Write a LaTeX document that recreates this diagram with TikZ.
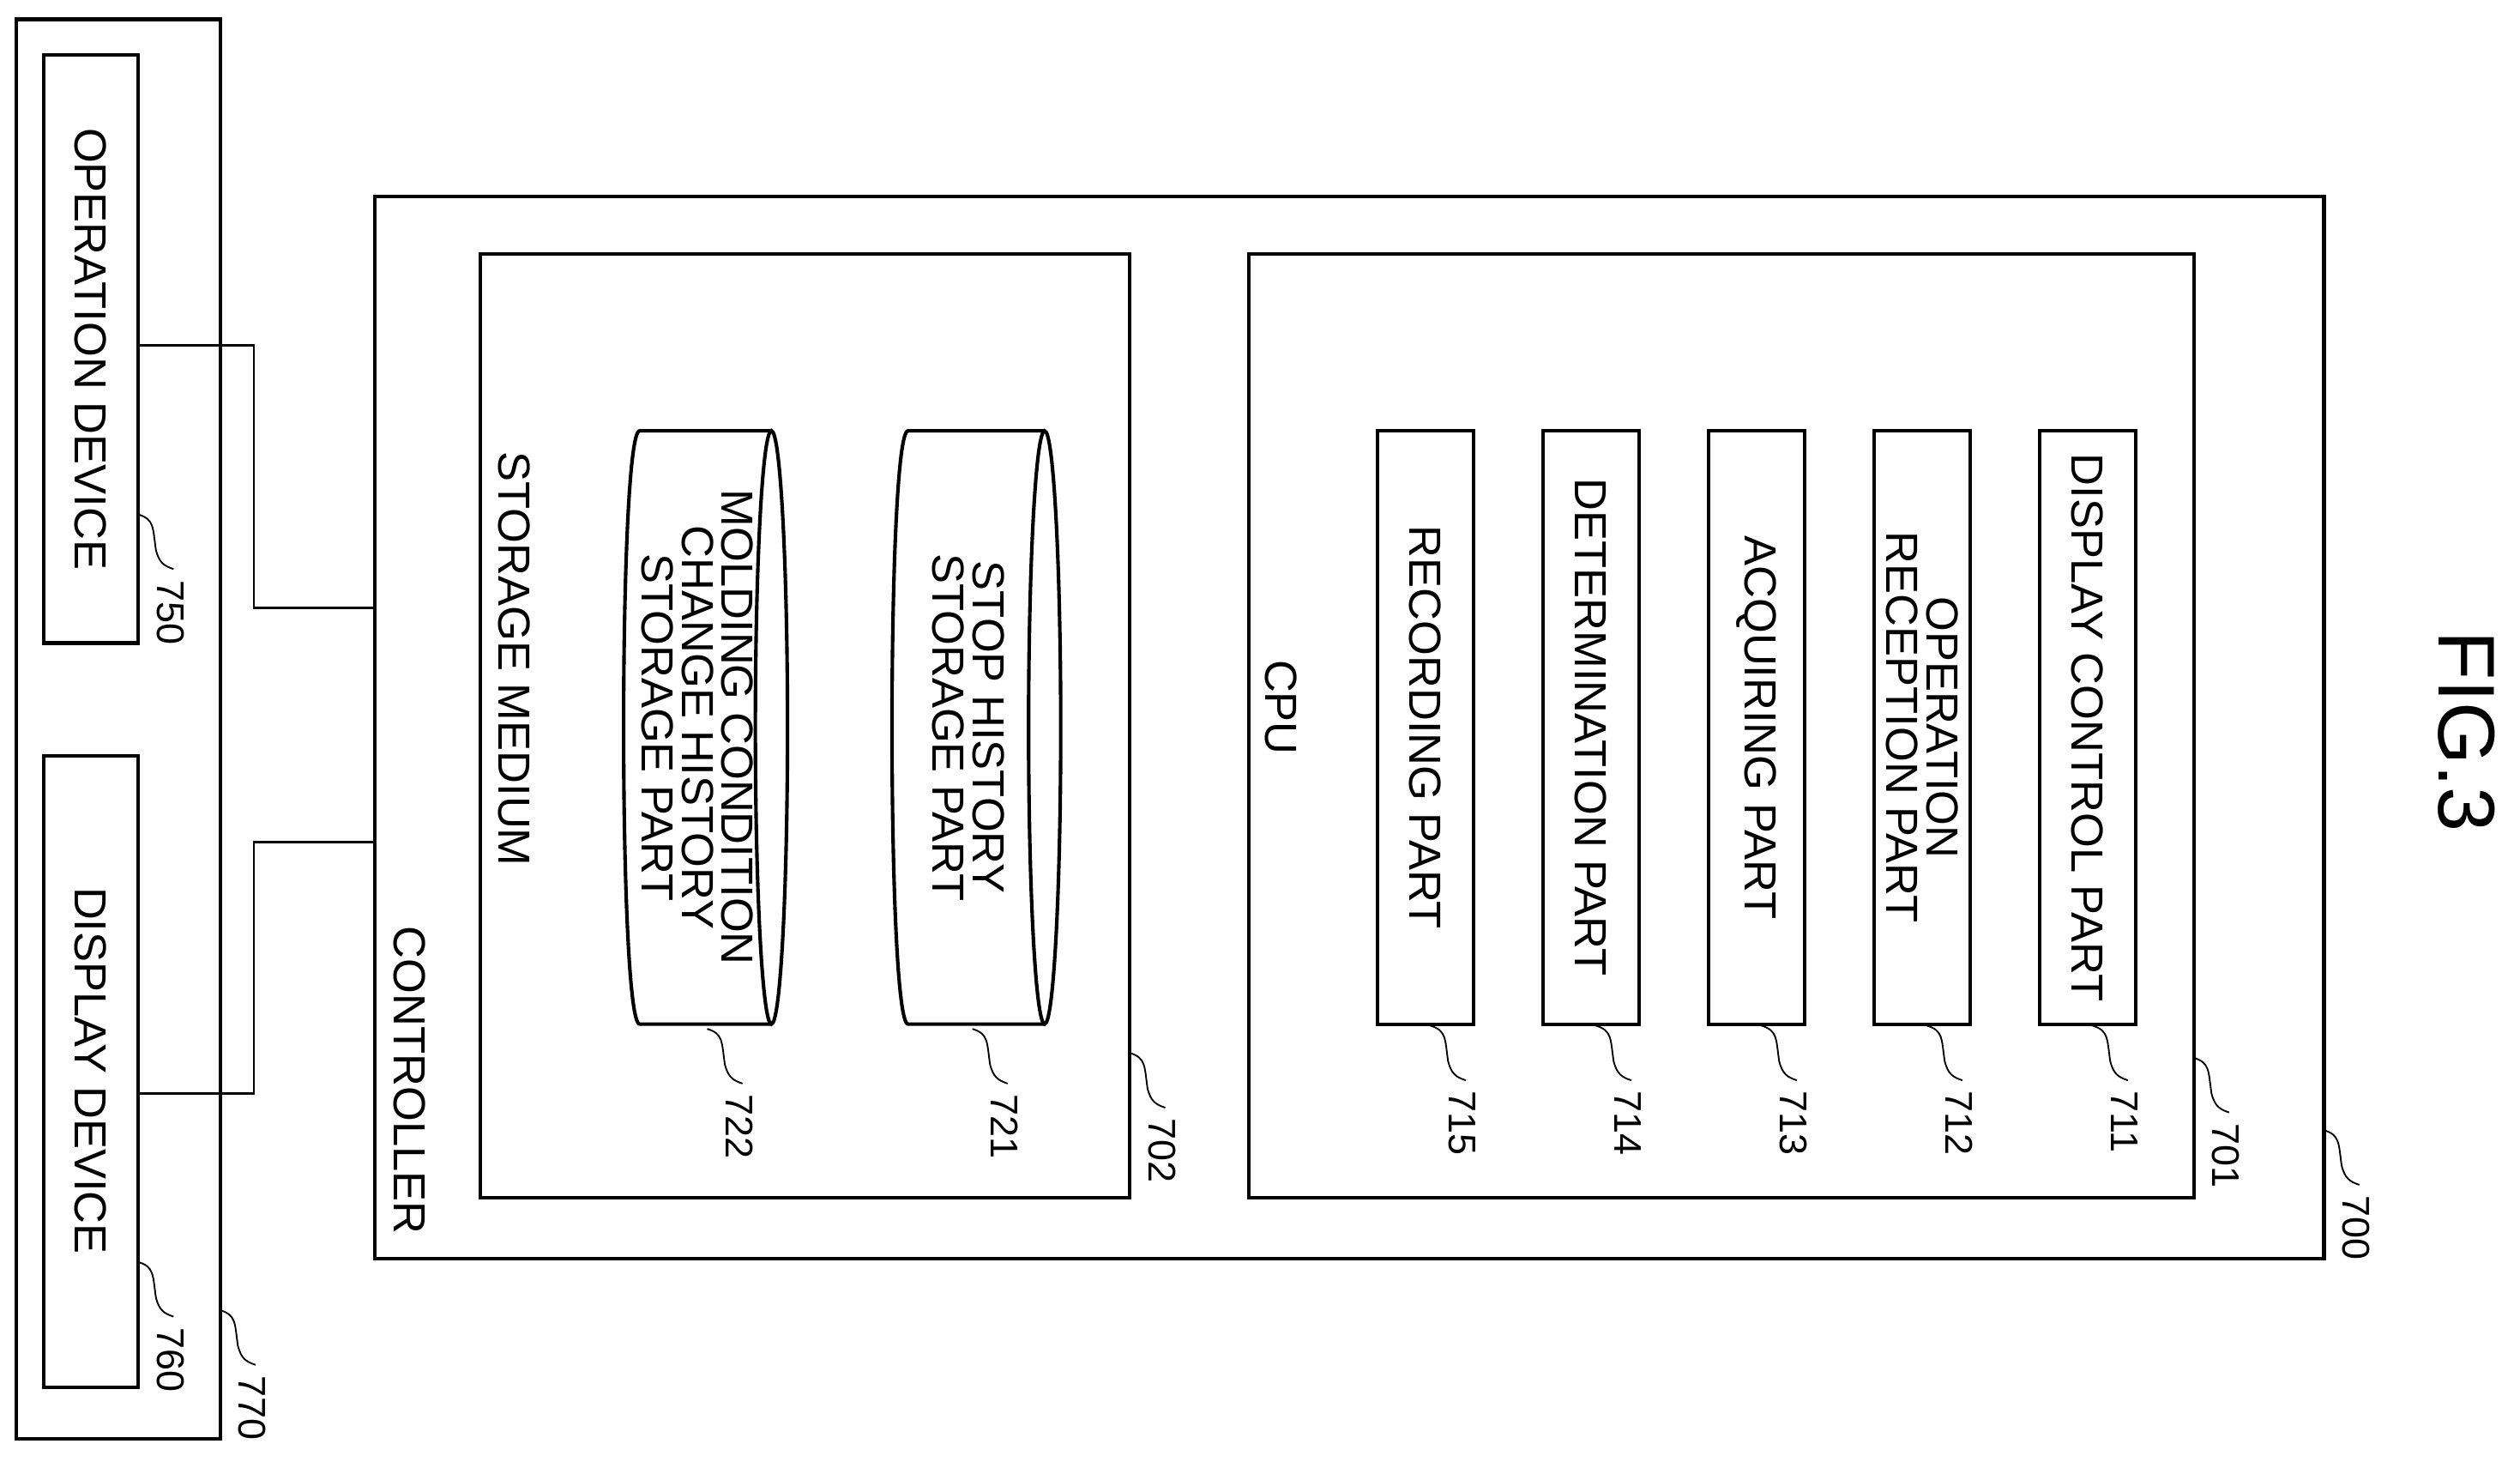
\documentclass[tikz,border=0pt]{standalone}
\usepackage{fontspec}
\setmainfont{Liberation Sans}
\usetikzlibrary{calc}
\begin{document}
\begin{tikzpicture}[x=1pt,y=-1pt,line width=1.6pt,
  txt/.style={rotate=-90,font=\fontsize{28}{25}\selectfont,align=center},
  lbl/.style={rotate=-90,anchor=west,font=\fontsize{24}{24}\selectfont,inner sep=0pt},
  lead/.style={line width=1pt},
  box/.style={draw,line width=2.2pt}]
\useasboundingbox (0,0) rectangle (1568,909);
\newcommand{\leader}[2]{%
  \draw[lead] (#1) .. controls +(10,3) and +(-2,-14) .. +(11,22) .. controls +(2,8) and +(-6,-2) .. +(22,34);
  \node[lbl] at ($(#1)+(20,40)$) {#2};}
% outer 770
\draw[box] (10,12) rectangle (137,895);
\draw[box] (27,34) rectangle (86,400);
\node[txt] at (56.5,217) {OPERATION DEVICE};
\draw[box] (27,470) rectangle (86,863);
\node[txt] at (56.5,666) {DISPLAY DEVICE};
% controller
\draw[box] (233,122) rectangle (1446,783);
\node[txt] at (255,672) {CONTROLLER};
\draw[box] (299,158) rectangle (703,745);
\node[txt] at (320,410) {STORAGE MEDIUM};
\draw[box] (777,158) rectangle (1365,745);
\node[txt] at (797,440) {CPU};
% cylinders
\foreach \xa/\xb/\t in {388/490/{MOLDING CONDITION\\CHANGE HISTORY\\STORAGE PART},555/660/{STOP HISTORY\\STORAGE PART}}{
  \draw[box] (\xb-10,268) -- (\xa+10,268) .. controls (\xa-3.3,268) and (\xa-3.3,637) .. (\xa+10,637) -- (\xb-10,637);
  \draw[box] (\xb-10,452.5) ellipse[x radius=10,y radius=184.5];
  \node[txt] at ({(\xa+\xb)/2-5},452.5) {\t};
}
% parts
\foreach \x/\t in {857/RECORDING PART,960/DETERMINATION PART,1063/ACQUIRING PART,1166/{OPERATION\\RECEPTION PART},1269/DISPLAY CONTROL PART}{
  \draw[box] (\x,268) rectangle (\x+60,637);
  \node[txt] at (\x+30,452.5) {\t};
}
% connectors
\coordinate (op) at (86,215); \coordinate (dp) at (86,680);
\coordinate (c1) at (233,378); \coordinate (c2) at (233,524);
\draw[line width=1.5pt] (op) -- (158,215) -- (158,378) -- (c1);
\draw[line width=1.5pt] (dp) -- (158,680) -- (158,524) -- (c2);
% leaders
\leader{1302,638}{711}
\leader{1199,638}{712}
\leader{1096,638}{713}
\leader{993,638}{714}
\leader{890,638}{715}
\leader{1365,658}{701}
\leader{1446,703}{700}
\leader{703,655}{702}
\leader{605,640}{721}
\leader{440,640}{722}
\leader{86,320}{750}
\leader{86,785}{760}
\leader{137,815}{770}
\node[rotate=-90,font=\fontsize{50}{50}\selectfont] (fig) at (1535,455) {FIG.3};
\end{tikzpicture}
\end{document}
